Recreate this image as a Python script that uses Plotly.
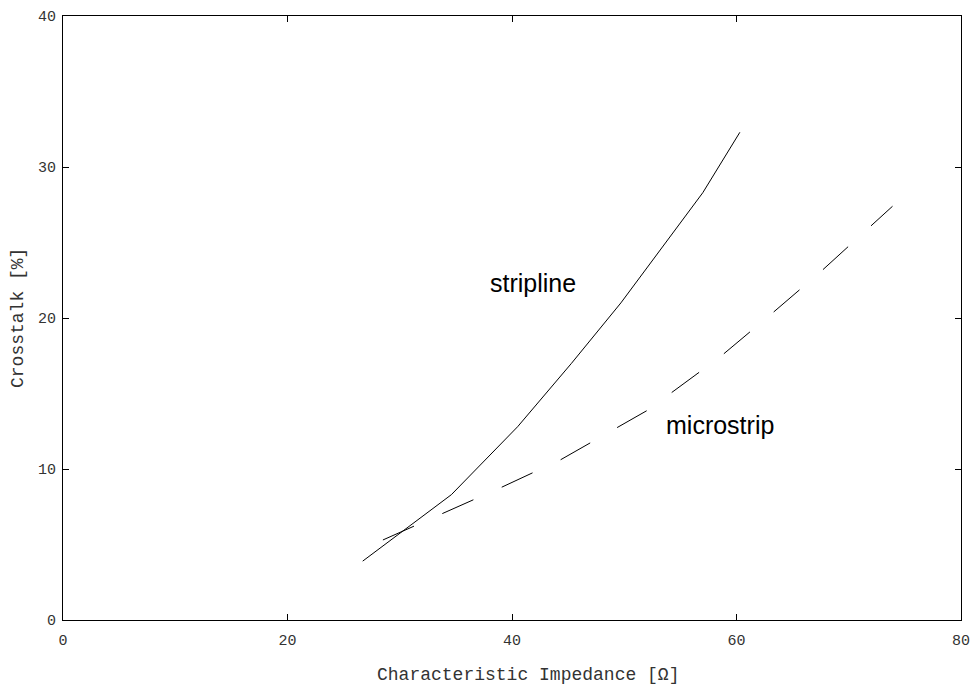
import plotly.graph_objects as go

stripline_x = [26.7, 34.6, 40.5, 45.3, 49.7, 53.5, 57.0, 60.3]
stripline_y = [3.9, 8.3, 12.8, 17.0, 21.0, 24.8, 28.3, 32.3]

microstrip_x = [28.5, 33.0, 36.4, 39.1, 44.3, 49.0, 52.1, 56.3, 58.5, 63.0, 67.4, 73.9]
microstrip_y = [5.3, 6.8, 7.9, 8.8, 10.6, 12.6, 13.9, 16.2, 17.4, 20.2, 23.0, 27.4]

x_ticks = [0, 20, 40, 60, 80]
y_ticks = [0, 10, 20, 30, 40]

labels = ["stripline", "microstrip"]
label_x = [41.9, 58.5]
label_y = [22.3, 12.9]

fig = go.Figure()
fig.add_trace(go.Scatter(x=stripline_x, y=stripline_y, mode="lines",
                         line=dict(color="black", width=1), showlegend=False))
fig.add_trace(go.Scatter(x=microstrip_x, y=microstrip_y, mode="lines",
                         line=dict(color="black", width=1, dash="34px,31px"), showlegend=False))

for t, xx, yy in zip(labels, label_x, label_y):
    fig.add_annotation(x=xx, y=yy, text=t, showarrow=False,
                       font=dict(family="Liberation Sans, Arial", size=25, color="black"))

mono = "Liberation Mono, DejaVu Sans Mono, monospace"
axis_common = dict(showline=True, linecolor="black", linewidth=1, mirror="allticks",
                   ticks="inside", ticklen=6, tickcolor="black", tickwidth=1,
                   showgrid=False, zeroline=False, automargin=False,
                   tickfont=dict(family=mono, size=15, color="#333"))

fig.update_xaxes(range=[0, 80], tickvals=x_ticks, ticklabelstandoff=6, **axis_common)
fig.update_yaxes(range=[0, 40], tickvals=y_ticks, ticklabelstandoff=3, **axis_common)

fig.add_annotation(xref="paper", yref="paper", x=0.518, y=0, yshift=-55,
                   xanchor="center", yanchor="middle",
                   text="Characteristic Impedance [Ω]", showarrow=False,
                   font=dict(family=mono, size=18, color="#333"))
fig.add_annotation(xref="paper", yref="paper", x=0, y=0.5, xshift=-45,
                   xanchor="center", yanchor="middle",
                   text="Crosstalk [%]", showarrow=False, textangle=-90,
                   font=dict(family=mono, size=18, color="#333"))

fig.update_layout(width=975, height=686, plot_bgcolor="white", paper_bgcolor="white",
                  margin=dict(l=63, r=14, t=16, b=66))

fig.write_html("out.html")
